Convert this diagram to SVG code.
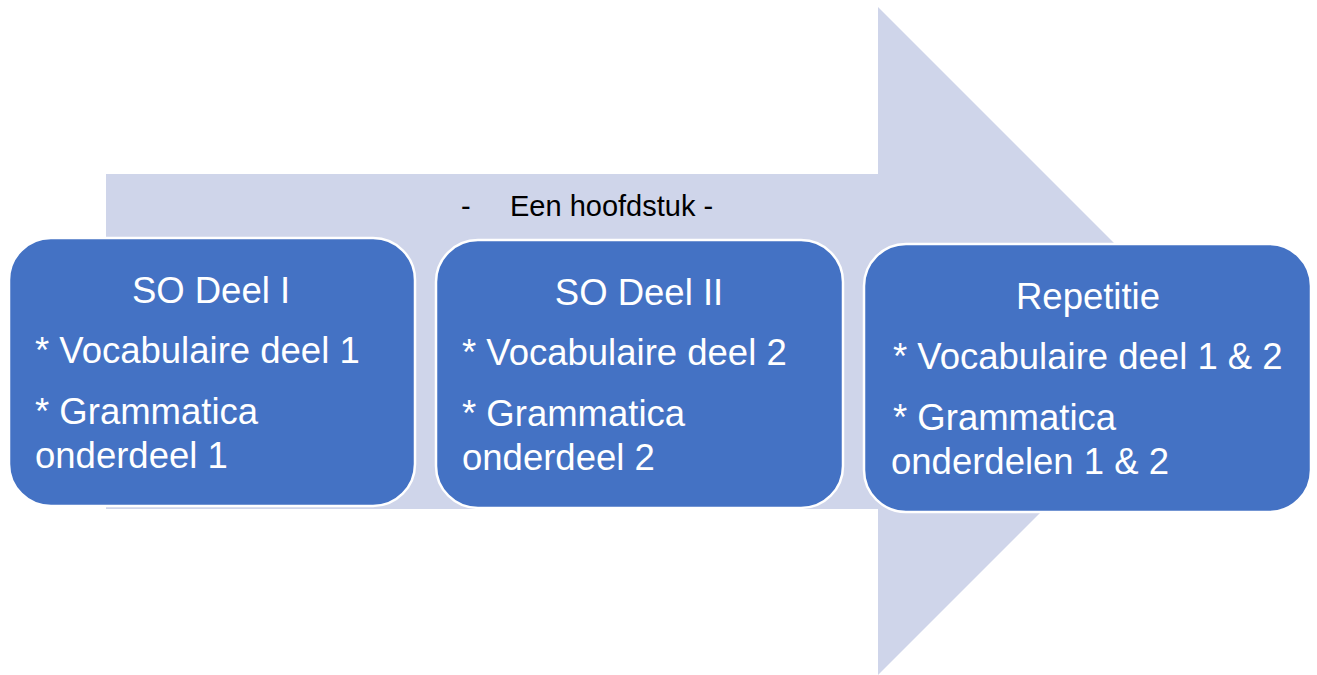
<svg xmlns="http://www.w3.org/2000/svg" width="1317" height="675" viewBox="0 0 1317 675">
<style>
.box{fill:#4472C4;stroke:#FFFFFF;stroke-width:2.5}
.t{font-family:"Liberation Sans",Arial,sans-serif;font-size:36.5px;fill:#FFFFFF}
.c{text-anchor:middle}
.lbl{font-family:"Liberation Sans",Arial,sans-serif;font-size:29px;fill:#000000}
</style>
<rect width="1317" height="675" fill="#FFFFFF"/>
<g id="arrow">
<polygon points="106,174 878,174 878,7 1212,341 878,675 878,509 106,509" fill="#CFD5EA"/>
<text class="lbl" x="461" y="216">-</text>
<text class="lbl" x="510" y="216">Een hoofdstuk -</text>
</g>
<g id="connectors"></g>
<g id="node1">
<rect class="box" x="9" y="238" width="406" height="268" rx="42"/>
<text class="t c" x="211" y="303">SO Deel I</text>
<text class="t" x="35" y="363">* Vocabulaire deel 1</text>
<text class="t" x="35" y="424">* Grammatica</text>
<text class="t" x="35" y="468">onderdeel 1</text>
</g>
<g id="node2">
<rect class="box" x="436" y="240" width="407" height="268" rx="42"/>
<text class="t c" x="639" y="305">SO Deel II</text>
<text class="t" x="462" y="365">* Vocabulaire deel 2</text>
<text class="t" x="462" y="426">* Grammatica</text>
<text class="t" x="462" y="470">onderdeel 2</text>
</g>
<g id="node3">
<rect class="box" x="864" y="244" width="447" height="268" rx="42"/>
<text class="t c" x="1088" y="309">Repetitie</text>
<text class="t" x="893" y="369">* Vocabulaire deel 1 &amp; 2</text>
<text class="t" x="893" y="430">* Grammatica</text>
<text class="t" x="891" y="474">onderdelen 1 &amp; 2</text>
</g>
</svg>
